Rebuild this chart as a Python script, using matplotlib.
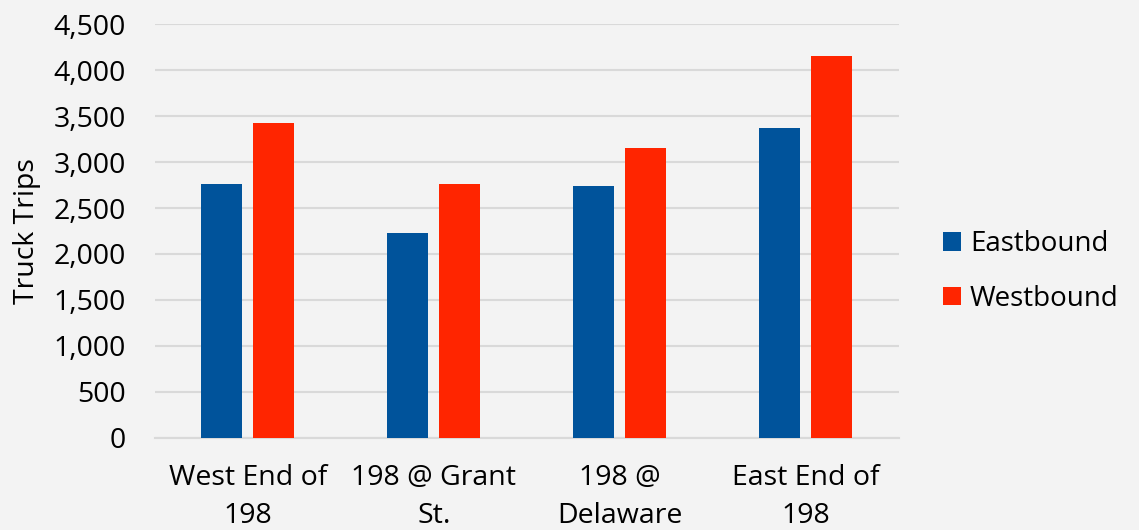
import matplotlib.pyplot as plt
import numpy as np

# data
locations = ['West End of\n198', '198 @ Grant\nSt.', '198 @\nDelaware', 'East End of\n198']
eastbound = [2760, 2230, 2735, 3365]
westbound = [3425, 2765, 3150, 4155]
yticks = [0, 500, 1000, 1500, 2000, 2500, 3000, 3500, 4000, 4500]

blue = '#00539B'
red = '#FF2500'
bg = '#F3F3F3'
fs = 20.5

plt.rcParams['font.family'] = ['Open Sans', 'DejaVu Sans']

fig = plt.figure(figsize=(11.39, 5.30), dpi=100, facecolor=bg)
ax = fig.add_axes([0.136, 0.1736, 0.653, 0.7811])
ax.set_facecolor(bg)

x = np.arange(len(locations))
w = 0.22
ax.bar(x - 0.14, eastbound, w, color=blue, label='Eastbound', zorder=3)
ax.bar(x + 0.14, westbound, w, color=red, label='Westbound', zorder=3)

ax.set_xlim(-0.5, len(locations) - 0.5)
ax.set_ylim(0, 4500)
ax.set_yticks(yticks)
ax.set_yticklabels([f'{v:,}' for v in yticks])
ax.set_xticks(x)
ax.set_xticklabels(locations, linespacing=1.47)
ax.tick_params(axis='both', length=0, labelsize=fs, colors='#000000')
ax.tick_params(axis='x', pad=18.5)
ax.tick_params(axis='y', pad=21)

ax.grid(axis='y', color='#D9D9D9', linewidth=1.5, zorder=0)
for s in ['top', 'right', 'left']:
    ax.spines[s].set_visible(False)
ax.spines['bottom'].set_color('#D9D9D9')
ax.spines['bottom'].set_linewidth(1.5)

ax.set_ylabel('Truck Trips', fontsize=fs, labelpad=9)

fig.legend(loc='center left', bbox_to_anchor=(0.828, 0.488), frameon=False,
           fontsize=20, handlelength=0.65, handleheight=0.65, handletextpad=0.32,
           labelspacing=0.95, borderpad=0, borderaxespad=0)

fig.savefig('out.png', dpi=100, facecolor=bg)
